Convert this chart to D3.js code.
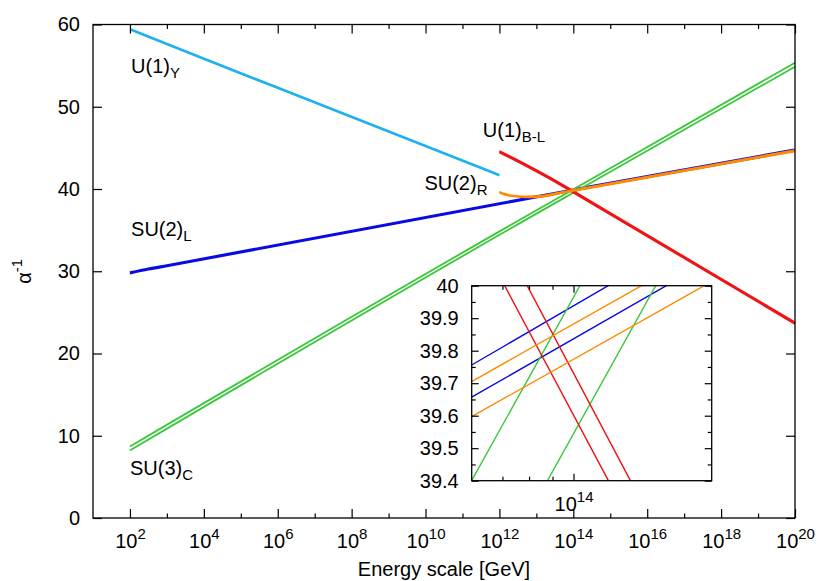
<!DOCTYPE html>
<html>
<head>
<meta charset="utf-8">
<script src="https://cdn.jsdelivr.net/npm/d3@7"></script>
<style>
  body { margin: 0; background: #fff; }
  svg { display: block; font-family: "Liberation Sans", Arial, Helvetica, sans-serif; }
</style>
</head>
<body>
<svg id="chart" width="830" height="581"></svg>
<script>
// points are [log10(E / GeV), alpha^-1]
const u1Y = [[2, 59.42], [3, 57.62], [6, 52.3], [12, 41.68]];
const su2L_a = [[2, 29.85], [2.5, 30.32], [3, 30.72], [13.778, 39.756], [14.301, 40.185], [20, 44.8]];
const su2L_b = [[2, 29.75], [2.5, 30.22], [3, 30.62], [13.778, 39.657], [14.301, 40.08], [20, 44.66]];
const su2R_a = [[12, 39.65], [12.1, 39.45], [12.25, 39.28], [12.45, 39.16], [12.7, 39.08], [13, 39.1], [13.778, 39.705], [14.301, 40.122], [20, 44.72]];
const su2R_b = [[12, 39.6], [12.1, 39.4], [12.25, 39.22], [12.45, 39.1], [12.7, 39.01], [13, 39.0], [13.778, 39.597], [14.301, 40.013], [20, 44.6]];
const u1BL_a = [[12, 44.6], [12.5, 43.47], [13, 42.28], [13.5, 41.04], [13.899, 40.0], [14.124, 39.4], [20, 23.75]];
const u1BL_b = [[12, 44.47], [12.5, 43.34], [13, 42.15], [13.5, 40.91], [13.85, 40.0], [14.076, 39.4], [20, 23.62]];
const su3C_a = [[2, 8.7], [13.778, 39.4], [14.301, 40.73], [20, 55.36]];
const su3C_b = [[2, 8.21], [13.778, 38.98], [14.301, 40.31], [20, 54.87]];

const xMajor = [1e2, 1e4, 1e6, 1e8, 1e10, 1e12, 1e14, 1e16, 1e18, 1e20];
const xMinor = [1e3, 1e5, 1e7, 1e9, 1e11, 1e13, 1e15, 1e17, 1e19];
const yTicks = [0, 10, 20, 30, 40, 50, 60];
const insetXMajor = [1e14];
const insetXMinor = [7e13, 8e13, 9e13];
const insetYTicks = [39.4, 39.5, 39.6, 39.7, 39.8, 39.9, 40];
const insetYLabels = ["39.4", "39.5", "39.6", "39.7", "39.8", "39.9", "40"];
const insetYMinor = [39.45, 39.55, 39.65, 39.75, 39.85, 39.95];

const labels = [
  { name: "U(1)", sub: "Y", at: [2.03, 54.1] },
  { name: "SU(2)", sub: "L", at: [2.03, 34.3] },
  { name: "SU(3)", sub: "C", at: [2.0, 5.26] },
  { name: "U(1)", sub: "B-L", at: [11.55, 46.37] },
  { name: "SU(2)", sub: "R", at: [9.97, 39.9] }
];

const series = [
  { data: u1Y, color: "#1eb1ef", w: 2.6 },
  { data: su2L_a, color: "#0a0ae6", w: 2.3 },
  { data: su2L_b, color: "#0a0ae6", w: 2.3 },
  { data: su3C_a, color: "#3cc83c", w: 1.8 },
  { data: su3C_b, color: "#3cc83c", w: 1.8 },
  { data: u1BL_a, color: "#f01414", w: 2.2 },
  { data: u1BL_b, color: "#f01414", w: 2.2 },
  { data: su2R_a, color: "#ff8a00", w: 2.1 },
  { data: su2R_b, color: "#ff8a00", w: 2.1 }
];

const svg = d3.select("#chart");
const margin = { top: 24.5, right: 35, bottom: 63, left: 93 };
const width = +svg.attr("width") - margin.left - margin.right;
const height = +svg.attr("height") - margin.top - margin.bottom;

const chart = svg.append("g")
  .attr("transform", `translate(${margin.left}, ${margin.top})`);

const x = d3.scaleLog().domain([1e1, 1e20]).range([0, width]);
const y = d3.scaleLinear().domain([0, 60]).range([height, 0]);

function styleAxis(g) {
  g.attr("font-family", null).attr("font-size", 20);
  g.select(".domain").remove();
  g.selectAll(".tick line").attr("stroke", "#000").attr("stroke-width", 1.2);
  g.selectAll(".tick text").attr("fill", "#000");
}

function powers(g) {
  g.selectAll(".tick text").each(function (d) {
    const t = d3.select(this).text(null);
    t.append("tspan").text("10");
    t.append("tspan").attr("font-size", 15).attr("dy", -9).text(Math.round(Math.log10(d)));
  });
}

function addAxes(g, sx, sy, w, h, o) {
  g.append("g").attr("transform", `translate(0, ${h})`)
    .call(d3.axisBottom(sx).tickValues(o.xMajor).tickSize(-o.major).tickPadding(15.8))
    .call(styleAxis).call(powers);
  g.append("g").attr("transform", `translate(0, ${h})`)
    .call(d3.axisBottom(sx).tickValues(o.xMinor).tickSize(-o.minor).tickFormat(""))
    .call(styleAxis);
  g.append("g")
    .call(d3.axisTop(sx).tickValues(o.xMajor).tickSize(-o.major).tickFormat(""))
    .call(styleAxis);
  g.append("g")
    .call(d3.axisTop(sx).tickValues(o.xMinor).tickSize(-o.minor).tickFormat(""))
    .call(styleAxis);
  g.append("g")
    .call(d3.axisLeft(sy).tickValues(o.yMajor).tickSize(-o.major).tickPadding(13).tickFormat(o.yFormat))
    .call(styleAxis);
  g.append("g").attr("transform", `translate(${w}, 0)`)
    .call(d3.axisRight(sy).tickValues(o.yMajor).tickSize(-o.major).tickFormat(""))
    .call(styleAxis);
  if (o.yMinor) {
    g.append("g")
      .call(d3.axisLeft(sy).tickValues(o.yMinor).tickSize(-o.minor).tickFormat(""))
      .call(styleAxis);
    g.append("g").attr("transform", `translate(${w}, 0)`)
      .call(d3.axisRight(sy).tickValues(o.yMinor).tickSize(-o.minor).tickFormat(""))
      .call(styleAxis);
  }
  g.append("rect")
    .attr("width", w).attr("height", h)
    .attr("fill", "none").attr("stroke", "#000").attr("stroke-width", 1.3);
}

// main curves
const line = d3.line()
  .x(d => x(10 ** d[0]))
  .y(d => y(d[1]))
  .curve(d3.curveMonotoneX);

chart.selectAll("path.coupling")
  .data(series)
  .enter()
  .append("path")
  .attr("class", "coupling")
  .attr("fill", "none")
  .attr("stroke", d => d.color)
  .attr("stroke-width", d => d.w)
  .attr("d", d => line(d.data));

addAxes(chart, x, y, width, height, {
  xMajor: xMajor, xMinor: xMinor, yMajor: yTicks, major: 9, minor: 4.5,
  yFormat: d3.format("d")
});

chart.append("text")
  .attr("x", width / 2)
  .attr("y", height + 58)
  .attr("text-anchor", "middle")
  .attr("font-size", 20)
  .text("Energy scale [GeV]");

const ylab = svg.append("text")
  .attr("transform", `translate(31, ${margin.top + height / 2}) rotate(-90)`)
  .attr("text-anchor", "middle")
  .attr("font-size", 20);
ylab.append("tspan").text("α");
ylab.append("tspan").attr("font-size", 15).attr("dy", -9).text("-1");

const lab = chart.selectAll("text.name")
  .data(labels)
  .enter()
  .append("text")
  .attr("class", "name")
  .attr("x", d => x(10 ** d.at[0]))
  .attr("y", d => y(d.at[1]))
  .attr("font-size", 20);
lab.append("tspan").text(d => d.name);
lab.append("tspan").attr("font-size", 15).attr("dy", 5).text(d => d.sub);

// inset zoom around 10^14
const inset = { left: 471.7, top: 285.7, width: 240, height: 195 };
const xi = d3.scaleLog().domain([6e13, 2e14]).range([0, inset.width]);
const yi = d3.scaleLinear().domain([39.4, 40]).range([inset.height, 0]);

const ig = svg.append("g")
  .attr("transform", `translate(${inset.left}, ${inset.top})`);

ig.append("rect")
  .attr("width", inset.width).attr("height", inset.height)
  .attr("fill", "#fff");

svg.append("defs").append("clipPath").attr("id", "insetClip")
  .append("rect").attr("width", inset.width).attr("height", inset.height);

const iline = d3.line()
  .x(d => xi(10 ** d[0]))
  .y(d => yi(d[1]));

ig.append("g")
  .attr("clip-path", "url(#insetClip)")
  .selectAll("path")
  .data(series)
  .enter()
  .append("path")
  .attr("fill", "none")
  .attr("stroke", d => d.color)
  .attr("stroke-width", 1.4)
  .attr("d", d => iline(d.data));

addAxes(ig, xi, yi, inset.width, inset.height, {
  xMajor: insetXMajor, xMinor: insetXMinor, yMajor: insetYTicks, yMinor: insetYMinor,
  major: 7, minor: 4,
  yFormat: (d, i) => insetYLabels[i]
});
</script>
</body>
</html>
